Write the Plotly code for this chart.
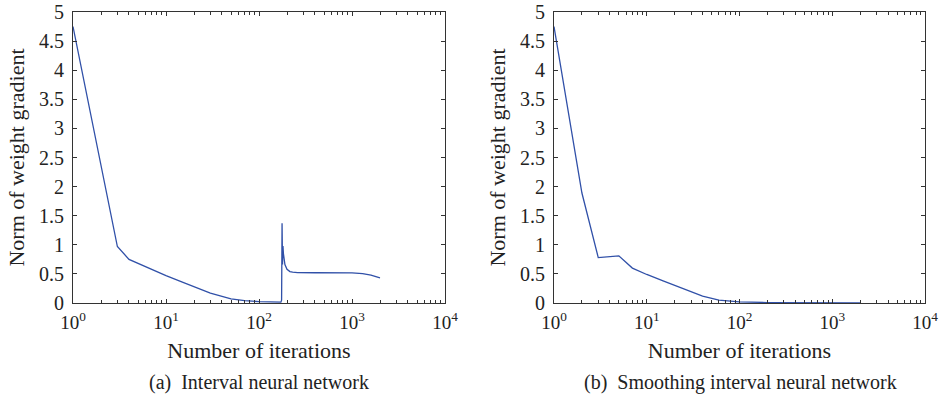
import plotly.graph_objects as go

# Left panel: interval neural network
iter_a = [1, 3, 4, 6, 10, 15, 20, 30, 50, 70, 100, 140, 172, 175, 177, 178, 179, 180, 181, 183, 186, 190, 200, 215, 230, 260, 400, 700, 1000, 1300, 1600, 2000]
norm_a = [4.75, 0.97, 0.75, 0.62, 0.47, 0.36, 0.28, 0.17, 0.07, 0.04, 0.025, 0.018, 0.015, 0.05, 1.37, 1.1, 0.66, 0.9, 0.98, 0.85, 0.75, 0.66, 0.58, 0.54, 0.53, 0.522, 0.52, 0.52, 0.518, 0.505, 0.48, 0.43]

# Right panel: smoothing interval neural network
iter_b = [1, 2, 3, 5, 7, 10, 15, 20, 30, 40, 60, 100, 200, 500, 1000, 2000]
norm_b = [4.75, 1.89, 0.78, 0.81, 0.6, 0.49, 0.38, 0.3, 0.19, 0.12, 0.05, 0.02, 0.008, 0.004, 0.003, 0.002]

major_ticks = [1, 10, 100, 1000, 10000]
major_text = ["10<sup>0</sup>", "10<sup>1</sup>", "10<sup>2</sup>", "10<sup>3</sup>", "10<sup>4</sup>"]
minor_ticks = [m * d for d in [1, 10, 100, 1000] for m in range(2, 10)]

x_title = "Number of iterations"
y_title = "Norm of weight gradient"
captions = ["(a)  Interval neural network", "(b)  Smoothing interval neural network"]

FONT = "Liberation Serif"
LINE = "#3050a8"
TXT = "#222222"
AX = "#333333"

W, H = 940, 410
ML, MT = 73, 12
MR = W - 925
MB = H - 303
PW = W - ML - MR
PH = H - MT - MB

def px_to_dom(x0, x1):
    return [(x0 - ML) / PW, (x1 - ML) / PW]

fig = go.Figure()
fig.add_trace(go.Scatter(x=iter_a, y=norm_a, mode="lines", line=dict(color=LINE, width=1.3),
                         xaxis="x", yaxis="y", showlegend=False))
fig.add_trace(go.Scatter(x=iter_b, y=norm_b, mode="lines", line=dict(color=LINE, width=1.3),
                         xaxis="x2", yaxis="y2", showlegend=False))

def xax(domain, anchor):
    return dict(domain=domain, anchor=anchor, type="log", range=[0, 4],
                tickmode="array", tickvals=major_ticks, ticktext=major_text,
                ticks="inside", ticklen=4, tickwidth=1, tickcolor=AX,
                minor=dict(tickmode="array", tickvals=minor_ticks, ticks="inside", ticklen=2.5, tickcolor=AX, showgrid=False),
                showline=True, linecolor=AX, linewidth=1.2, mirror="ticks",
                showgrid=False, zeroline=False, automargin=False,
                tickfont=dict(family=FONT, size=19, color=TXT), ticklabelstandoff=2,
                title=dict(text=x_title, font=dict(family=FONT, size=22, color=TXT), standoff=10))

def yax(anchor):
    return dict(domain=[0, 1], anchor=anchor, range=[0, 5], dtick=0.5, tick0=0,
                ticks="inside", ticklen=4, tickwidth=1, tickcolor=AX,
                showline=True, linecolor=AX, linewidth=1.2, mirror="ticks",
                showgrid=False, zeroline=False, automargin=False,
                tickfont=dict(family=FONT, size=20, color=TXT), ticklabelstandoff=4,
                title=dict(text=y_title, font=dict(family=FONT, size=22, color=TXT), standoff=8))

fig.update_layout(
    width=W, height=H,
    margin=dict(l=ML, r=MR, t=MT, b=MB),
    paper_bgcolor="white", plot_bgcolor="white",
    hovermode=False,
    xaxis=xax(px_to_dom(73, 445), "y"),
    yaxis=yax("x"),
    xaxis2=xax(px_to_dom(554, 925), "y2"),
    yaxis2=yax("x2"),
)

cap_y = (H - 382 - MB) / PH
for cx, txt in zip([259, 740], captions):
    fig.add_annotation(text=txt, x=(cx - ML) / PW, y=cap_y, xref="paper", yref="paper",
                       xanchor="center", yanchor="middle", showarrow=False,
                       font=dict(family=FONT, size=20, color=TXT))

# remove the browser's default 8px body margin so the figure sits at the page origin
fig.write_html("out.html", config={"displayModeBar": False},
               post_script="document.body.style.margin='0px';")
